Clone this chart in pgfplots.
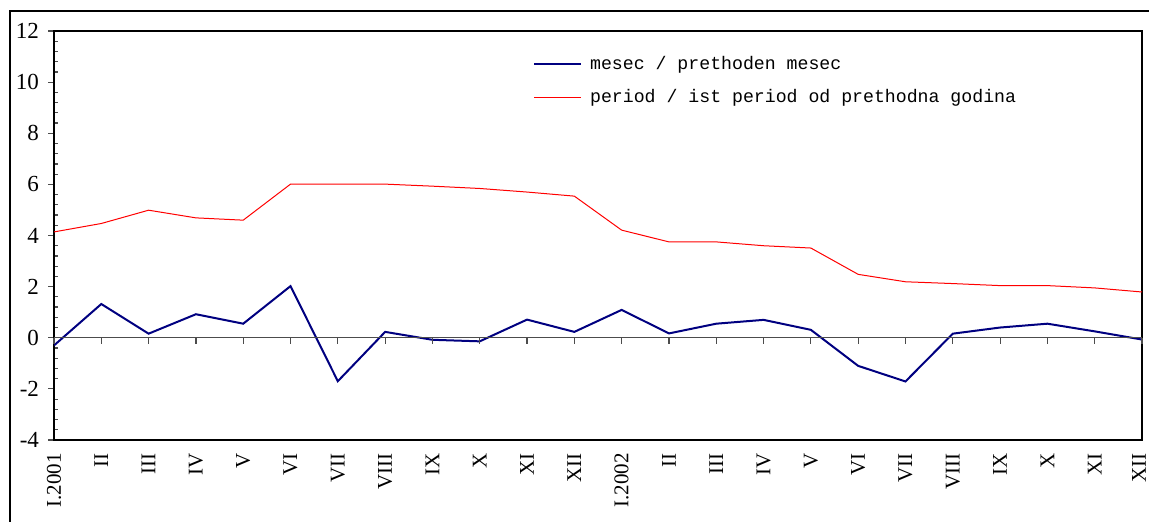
\documentclass[border=0pt]{standalone}
\usepackage{fontspec}
\setmainfont{Liberation Serif}
\newfontfamily\legfont{Liberation Mono}
\usepackage{pgfplots}
\pgfplotsset{compat=1.18}
\definecolor{navyline}{RGB}{0,0,128}
\definecolor{redline}{RGB}{255,0,0}
\begin{document}
\begin{tikzpicture}
\useasboundingbox (0,0) rectangle (574.5pt,260.5pt);
\draw[line width=1.3pt] (5pt,-5pt) -- (5pt,255pt) -- (580pt,255pt);
\begin{axis}[
  at={(27pt,40.5pt)}, anchor=south west,
  width=544pt, height=204.5pt, scale only axis,
  xmin=0, xmax=23, ymin=-4, ymax=12,
  axis line style={line width=1pt},
  xtick={0,...,22},
  xticklabels={I.2001,II,III,IV,V,VI,VII,VIII,IX,X,XI,XII,I.2002,II,III,IV,V,VI,VII,VIII,IX,X,XI},
  x tick label style={rotate=90, anchor=east, font=\fontsize{10.5}{12}\selectfont, inner sep=0.5pt, xshift=-6pt},
  extra x ticks={23},
  extra x tick labels={XII},
  extra x tick style={x tick label style={yshift=1.5pt}},
  x tick style={draw=none},
  ytick pos=left,
  ytick={-4,-2,...,12},
  yticklabels={-4,-2,0,2,4,6,8,10,12},
  y tick label style={font=\fontsize{11.5}{12}\selectfont, xshift=-4pt},
  minor y tick num=4,
  tick align=inside,
  y tick style={line width=0.6pt, black!70},
  major tick length=-3pt,
  minor tick length=2pt,
  legend style={at={(0.440,0.950)}, anchor=north west, draw=none, fill=none,
    font=\legfont\fontsize{9.1}{10}\selectfont, row sep=4.7pt, inner sep=0pt},
  legend cell align=left,
  legend image code/.code={\draw[#1] (0pt,0pt) -- (23.5pt,0pt);},
  legend style={nodes={inner xsep=4pt}},
]
\addplot[navyline, line width=1pt] coordinates {
(0,-0.30) (1,1.32) (2,0.16) (3,0.92) (4,0.55) (5,2.02) (6,-1.70) (7,0.23)
(8,-0.08) (9,-0.14) (10,0.71) (11,0.23) (12,1.09) (13,0.17) (14,0.55) (15,0.70)
(16,0.31) (17,-1.10) (18,-1.71) (19,0.16) (20,0.40) (21,0.55) (22,0.25) (23,-0.07)};
\addlegendentry{mesec / prethoden mesec}
\addplot[redline, line width=0.5pt] coordinates {
(0,4.14) (1,4.47) (2,4.99) (3,4.69) (4,4.60) (5,6.01) (6,6.01) (7,6.01)
(8,5.93) (9,5.84) (10,5.70) (11,5.54) (12,4.21) (13,3.75) (14,3.75) (15,3.60)
(16,3.51) (17,2.48) (18,2.19) (19,2.12) (20,2.04) (21,2.04) (22,1.95) (23,1.79)};
\addlegendentry{period / ist period od prethodna godina}
\end{axis}
\begin{axis}[
  at={(27pt,40.5pt)}, anchor=south west,
  width=544pt, height=204.5pt, scale only axis,
  xmin=0, xmax=23, ymin=-4, ymax=12,
  axis x line=middle, axis y line=none,
  axis line style={black!70, line width=0.6pt, -},
  xtick={0,...,23}, xticklabels={},
  x tick style={black!70, line width=0.6pt},
  tick align=outside, major tick length=3pt,
]
\end{axis}
\end{tikzpicture}
\end{document}
